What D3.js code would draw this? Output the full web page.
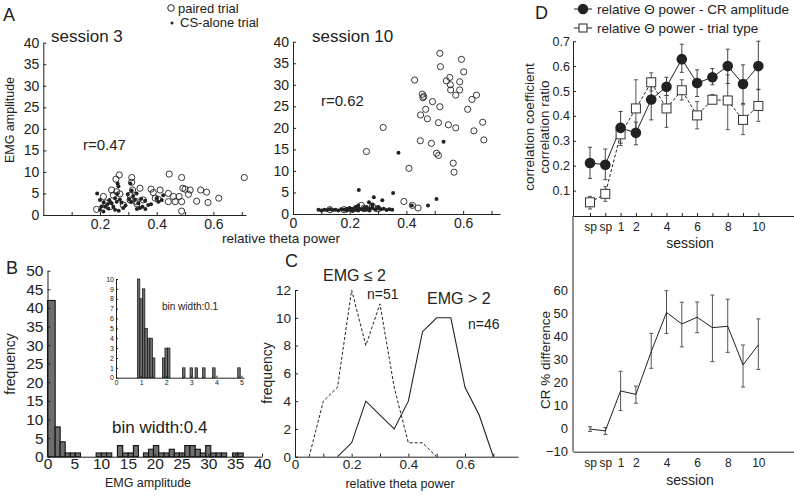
<!DOCTYPE html>
<html><head><meta charset="utf-8">
<script src="https://cdn.jsdelivr.net/npm/d3@7"></script>
<style>
body{margin:0;background:#fff;}
text{font-family:"Liberation Sans",Arial,sans-serif;fill:#222;}
</style></head>
<body><svg id="c" width="794" height="500"></svg>
<script>
// ---------------- DATA ----------------
// Panel A, session 3
const s3Paired = [[0.268,9.3],[0.256,8.3],[0.312,8.7],[0.312,7.6],[0.444,9.5],[0.488,8.7],[0.709,8.7],[0.241,5.8],[0.259,5.4],[0.247,4.6],[0.315,5.8],[0.341,6.2],[0.38,6.0],[0.388,5.2],[0.412,5.8],[0.441,5.0],[0.459,4.3],[0.492,6.2],[0.5,6.0],[0.518,5.8],[0.512,4.8],[0.555,5.8],[0.576,5.3],[0.541,3.2],[0.581,2.9],[0.619,3.9],[0.488,3.1],[0.479,4.3],[0.465,3.1],[0.441,3.1],[0.406,3.6],[0.488,0.9],[0.306,3.5],[0.329,3.1],[0.188,1.3],[0.235,1.9],[0.212,4.3],[0.282,2.3],[0.306,4.6],[0.353,3.5],[0.27,4.9],[0.33,2.6],[0.22,2.8],[0.395,3.9]];
const s3Alone = [[0.19,5.0],[0.2,3.5],[0.213,2.9],[0.218,1.9],[0.226,2.5],[0.233,3.5],[0.241,2.7],[0.247,1.9],[0.261,4.9],[0.265,6.7],[0.27,3.6],[0.276,2.9],[0.282,1.6],[0.259,3.1],[0.253,3.9],[0.312,5.7],[0.317,4.4],[0.323,3.6],[0.329,5.0],[0.335,2.7],[0.341,1.6],[0.35,1.9],[0.359,3.3],[0.37,2.3],[0.406,3.1],[0.418,3.5],[0.423,4.6],[0.298,4.8],[0.303,3.6],[0.2,1.2],[0.212,0.8],[0.229,1.5],[0.253,1.2],[0.266,1.0],[0.307,7.3],[0.262,7.3],[0.29,2.2],[0.345,3.8],[0.38,2.5],[0.4,3.9],[0.236,3.0],[0.205,2.0],[0.31,3.0],[0.33,1.4],[0.36,1.4]];
// Panel A, session 10
const s10Paired = [[0.518,37.3],[0.594,35.9],[0.52,34.2],[0.602,33.0],[0.429,31.1],[0.541,30.9],[0.553,31.7],[0.588,30.7],[0.555,30.0],[0.556,28.8],[0.588,28.8],[0.574,27.6],[0.456,27.8],[0.461,27.3],[0.458,27.0],[0.631,26.6],[0.647,27.6],[0.492,26.1],[0.518,24.9],[0.468,24.3],[0.616,24.3],[0.45,23.0],[0.474,22.1],[0.513,21.2],[0.548,20.7],[0.574,20.0],[0.669,21.3],[0.638,19.3],[0.673,17.2],[0.318,20.1],[0.449,17.0],[0.488,16.4],[0.506,14.1],[0.513,13.6],[0.259,14.5],[0.565,11.8],[0.568,9.7],[0.409,10.6],[0.391,2.9],[0.421,2.0],[0.441,1.4],[0.241,2.0],[0.13,1.0],[0.18,1.0],[0.25,1.3],[0.28,1.8],[0.3,1.2]];
const s10Alone = [[0.232,5.6],[0.372,14.2],[0.531,16.8],[0.353,4.9],[0.285,3.9],[0.315,3.2],[0.268,2.7],[0.506,3.5],[0.476,2.0],[0.419,2.0],[0.09,1.0],[0.1,0.8],[0.11,1.0],[0.12,0.9],[0.13,1.1],[0.14,0.9],[0.15,1.0],[0.16,0.8],[0.17,1.1],[0.18,1.0],[0.19,1.2],[0.19,0.8],[0.2,1.4],[0.2,1.0],[0.21,0.7],[0.21,1.2],[0.22,1.6],[0.22,0.9],[0.23,1.3],[0.23,0.8],[0.24,1.1],[0.25,0.9],[0.25,1.4],[0.26,1.0],[0.26,1.6],[0.27,1.2],[0.27,0.8],[0.28,1.4],[0.28,1.9],[0.29,1.0],[0.3,1.3],[0.3,1.6],[0.31,1.1],[0.32,1.2],[0.33,0.9],[0.34,1.1],[0.35,1.0],[0.23,2.0],[0.28,2.2]];
// Panel B main histogram (bin low edge, high edge, count)
const histLo =    [0,   1.43,2.36,3.3, 4.25,5.2, 9.07,10.04,11.01,13.04,14.03,15.05,16.02,17.9,18.85,19.75,20.75,21.7,22.7,23.65,24.6,25.6,26.55,27.55,28.5,29.5,30.45,31.45,32.45,34.5,35.5];
const histHi =    [1.43,2.36,3.3, 4.25,5.2, 6.15,10.04,11.01,11.98,14.03,15.05,16.02,16.95,18.85,19.75,20.75,21.7,22.7,23.65,24.6,25.6,26.55,27.55,28.5,29.5,30.45,31.45,32.45,33.4,35.5,36.5];
const histCount = [42,  8,   4,   1,   1,   1,   1,    1,    1,    3,    1,    1,    3,    1,   2,    3,    1,    1,   2,   1,    1,   3,   3,    2,    1,   3,   1,    1,    1,   1,   1];
// Panel B inset (bin width 0.1)
const insetLo =    [0.85,0.95,1.05,1.15,1.25,1.35,1.45,1.85,1.95,2.05,2.65,2.95,3.15,3.45,3.85,4.85];
const insetCount = [10,  8,   9,   5,   4,   4,   2,   2,   3,   3,   1,   1,   1,   1,   1,   1];
// Panel C
const thetaBins = [0.05,0.1,0.15,0.2,0.25,0.3,0.35,0.4,0.45,0.5,0.55,0.6,0.65,0.7];
const lowEMG  = [0,4,5,12,8,11,5,1,1,0,null,null,null,null];
const highEMG = [null,null,0,1,4,3,2,4,9,10,10,5,3,0];
// Panel D
const sessions = ["sp","sp","1","2","3","4","5","6","7","8","9","10"];
const sessionTickLabels = ["sp","sp","1","2","","4","","6","","8","","10"];
const crAmpR   = [0.211,0.204,0.352,0.332,0.466,0.517,0.628,0.532,0.555,0.6,0.528,0.6];
const crAmpLo  = [0.149,0.144,0.29,0.284,0.384,0.482,0.575,0.478,0.525,0.53,0.45,0.507];
const crAmpHi  = [0.274,0.267,0.418,0.375,0.55,0.555,0.688,0.585,0.59,0.668,0.605,0.7];
const trialR   = [0.053,0.087,0.326,0.43,0.535,0.43,0.503,0.402,0.465,0.462,0.384,0.44];
const trialLo  = [0.026,0.057,0.281,0.338,0.5,0.354,0.464,0.348,0.449,0.345,0.325,0.378];
const trialHi  = [0.077,0.116,0.37,0.545,0.573,0.482,0.545,0.458,0.486,0.565,0.445,0.505];
const crDiff   = [-0.2,-1.0,16.3,14.8,33.3,50.3,45.3,48.2,43.7,44.3,27.6,36.3];
const crDiffLo = [-1.2,-2.5,7.8,11.0,26.1,41.2,35.4,41.5,29.0,33.0,18.0,25.6];
const crDiffHi = [0.8,0.5,24.8,18.4,41.2,59.7,54.7,54.8,57.8,56.0,36.2,47.5];

// ---------------- DRAW ----------------
const svg = d3.select("#c");
const BLACK = "#222";

function styleAxis(g, fs){
  g.selectAll("path.domain").attr("stroke",BLACK).attr("stroke-width",1);
  g.selectAll(".tick line").attr("stroke",BLACK);
  g.selectAll(".tick text").attr("fill",BLACK).style("font-size",fs+"px").style("font-family",'"Liberation Sans",Arial,sans-serif');
  return g;
}
function text(x,y,t,fs,anchor,rot){
  const el = svg.append("text").attr("x",x).attr("y",y).text(t).style("font-size",fs+"px").attr("text-anchor",anchor||"start");
  if(rot) el.attr("transform",`rotate(${rot},${x},${y})`);
  return el;
}
const thetaFmt = d=>{const k=Math.round(d*10); return k===0?"0":(k%2===0?d3.format(".1f")(d):"");};

// ---- Panel A ----
text(3,21,"A",18);
svg.append("circle").attr("cx",171).attr("cy",8).attr("r",3.3).attr("fill","none").attr("stroke",BLACK);
text(178,13,"paired trial",13);
svg.append("circle").attr("cx",172).attr("cy",23).attr("r",1.5).attr("fill",BLACK);
text(180,27,"CS-alone trial",13);

function scatter(xs, ys, paired, alone, showZero){
  const gx = svg.append("g").attr("transform",`translate(0,${ys.range()[0]})`)
    .call(d3.axisBottom(xs).tickValues(d3.range(showZero?0:1,8).map(i=>i/10)).tickSize(-3).tickSizeOuter(0).tickPadding(4)
      .tickFormat(thetaFmt));
  styleAxis(gx,14);
  const gy = svg.append("g").attr("transform",`translate(${xs.range()[0]},0)`)
    .call(d3.axisLeft(ys).tickValues(d3.range(0,41,5)).tickSize(-3).tickSizeOuter(0).tickPadding(4));
  styleAxis(gy,14);
  svg.append("g").selectAll("circle").data(alone).join("circle")
    .attr("cx",d=>xs(d[0])).attr("cy",d=>ys(d[1])).attr("r",2).attr("fill",BLACK);
  svg.append("g").selectAll("circle").data(paired).join("circle")
    .attr("cx",d=>xs(d[0])).attr("cy",d=>ys(d[1])).attr("r",3.1).attr("fill","none").attr("stroke",BLACK).attr("stroke-width",0.9);
}
const xA3 = d3.scaleLinear([0,0.715],[43.3,246]);
const yA3 = d3.scaleLinear([0,40],[215,42.7]);
scatter(xA3,yA3,s3Paired,s3Alone,false);
const xA10 = d3.scaleLinear([0,0.73],[293,500]);
const yA10 = d3.scaleLinear([0,40],[214,41.7]);
scatter(xA10,yA10,s10Paired,s10Alone,true);
text(51,42,"session 3",17);
text(312,42,"session 10",17);
text(83,150,"r=0.47",15);
text(321,106,"r=0.62",15);
text(14,120,"EMG amplitude",12.5,"middle",-90);
text(281,243,"relative theta power",13.5,"middle");

// ---- Panel B ----
text(6,274,"B",18);
const xB = d3.scaleLinear([0,40],[47.5,262]);
const yB = d3.scaleLinear([0,50],[456.7,270.7]);
svg.append("g").selectAll("rect").data(histCount).join("rect")
  .attr("x",(d,i)=>xB(histLo[i])).attr("width",(d,i)=>xB(histHi[i])-xB(histLo[i]))
  .attr("y",d=>yB(d)).attr("height",d=>yB(0)-yB(d))
  .attr("fill","#6e6e6e").attr("stroke","#111").attr("stroke-width",1.1);
styleAxis(svg.append("g").attr("transform",`translate(0,${yB(0)})`)
  .call(d3.axisBottom(xB).tickValues(d3.range(0,41,5)).tickSize(-3).tickSizeOuter(0).tickPadding(1)),15.5);
styleAxis(svg.append("g").attr("transform",`translate(${xB(0)},0)`)
  .call(d3.axisLeft(yB).tickValues(d3.range(0,51,5)).tickSize(-3).tickSizeOuter(0).tickPadding(4)),15.5);
text(15,364,"frequency",14,"middle",-90);
text(148,487,"EMG amplitude",12.5,"middle");
text(112,433,"bin width:0.4",17);
// inset
const xI = d3.scaleLinear([0,5.1],[116,244]);
const yI = d3.scaleLinear([0,10],[377.7,279]);
svg.append("g").selectAll("rect").data(insetCount).join("rect")
  .attr("x",(d,i)=>xI(insetLo[i])).attr("width",xI(0.1)-xI(0))
  .attr("y",d=>yI(d)).attr("height",d=>yI(0)-yI(d))
  .attr("fill","#6e6e6e").attr("stroke","#111").attr("stroke-width",0.7);
styleAxis(svg.append("g").attr("transform",`translate(0,${yI(0)})`)
  .call(d3.axisBottom(xI).tickValues(d3.range(0,6)).tickSize(-2).tickSizeOuter(0).tickPadding(2).tickFormat(d3.format("d"))),7);
styleAxis(svg.append("g").attr("transform",`translate(${xI(0)},0)`)
  .call(d3.axisLeft(yI).tickValues(d3.range(0,11)).tickSize(-2).tickSizeOuter(0).tickPadding(2).tickFormat(d3.format("d"))),7);
text(162,310,"bin width:0.1",10);

// ---- Panel C ----
text(285,267,"C",18);
const xC = d3.scaleLinear([0,0.787],[295,518]);
const yC = d3.scaleLinear([0,12],[456.7,290]);
styleAxis(svg.append("g").attr("transform",`translate(0,${yC(0)})`)
  .call(d3.axisBottom(xC).tickValues(d3.range(0,8).map(i=>i/10)).tickSize(-3).tickSizeOuter(0).tickPadding(3)
    .tickFormat(thetaFmt)),13.5);
styleAxis(svg.append("g").attr("transform",`translate(${xC(0)},0)`)
  .call(d3.axisLeft(yC).tickValues(d3.range(0,13,2)).tickSize(-3).tickSizeOuter(0).tickPadding(4)),13.5);
const lineC = d3.line().defined(d=>d[1]!==null).x(d=>xC(d[0])).y(d=>yC(d[1]));
svg.append("path").attr("d",lineC(thetaBins.map((t,i)=>[t,lowEMG[i]]))).attr("fill","none")
  .attr("stroke",BLACK).attr("stroke-width",1).attr("stroke-dasharray","3,2");
svg.append("path").attr("d",lineC(thetaBins.map((t,i)=>[t,highEMG[i]]))).attr("fill","none")
  .attr("stroke",BLACK).attr("stroke-width",1.1);
text(272,373,"frequency",14,"middle",-90);
text(400,488,"relative theta power",12.5,"middle");
text(323,281,"EMG ≤ 2",16);
text(367,299,"n=51",14);
text(427,304,"EMG > 2",16);
text(468,329,"n=46",14);

// ---- Panel D ----
text(535,19,"D",18);
const xD = d3.scaleLinear([-1.11,13.33],[573,794]);
const yD = d3.scaleLinear([0,0.7],[215.5,41.2]);
const yD2 = d3.scaleLinear([-10,60],[451.7,290]);
const idx = d3.range(sessions.length);
// legend
svg.append("line").attr("x1",574).attr("x2",592).attr("y1",9).attr("y2",9).attr("stroke",BLACK);
svg.append("circle").attr("cx",583).attr("cy",9).attr("r",5.2).attr("fill",BLACK);
text(597,14,"relative Θ power - CR amplitude",13.5);
svg.append("line").attr("x1",574).attr("x2",592).attr("y1",28).attr("y2",28).attr("stroke",BLACK);
svg.append("rect").attr("x",579).attr("y",24).attr("width",8).attr("height",8).attr("fill","#fff").attr("stroke",BLACK);
text(597,33,"relative Θ power - trial type",13.5);
// top axes
styleAxis(svg.append("g").attr("transform",`translate(0,216)`)
  .call(d3.axisBottom(xD).tickValues(idx).tickSize(-3).tickSizeOuter(0).tickPadding(6).tickFormat(i=>sessionTickLabels[i])),12);
styleAxis(svg.append("g").attr("transform",`translate(573,0)`)
  .call(d3.axisLeft(yD).tickValues(d3.range(1,8).map(i=>i/10)).tickSize(-3).tickSizeOuter(0).tickPadding(3).tickFormat(d3.format(".1f"))),12.5);
function errBars(lo,hi,ys,color){
  const g = svg.append("g").attr("stroke",color).attr("stroke-width",1);
  idx.forEach(i=>{
    const x = xD(i);
    g.append("line").attr("x1",x).attr("x2",x).attr("y1",ys(lo[i])).attr("y2",ys(hi[i]));
    g.append("line").attr("x1",x-2).attr("x2",x+2).attr("y1",ys(lo[i])).attr("y2",ys(lo[i]));
    g.append("line").attr("x1",x-2).attr("x2",x+2).attr("y1",ys(hi[i])).attr("y2",ys(hi[i]));
  });
}
errBars(trialLo,trialHi,yD,"#555");
errBars(crAmpLo,crAmpHi,yD,"#444");
svg.append("path").attr("d",d3.line().x(i=>xD(i)).y(i=>yD(trialR[i]))(idx))
  .attr("fill","none").attr("stroke",BLACK).attr("stroke-dasharray","3,2");
svg.append("path").attr("d",d3.line().x(i=>xD(i)).y(i=>yD(crAmpR[i]))(idx))
  .attr("fill","none").attr("stroke",BLACK);
svg.append("g").selectAll("rect").data(idx).join("rect")
  .attr("x",i=>xD(i)-4.5).attr("y",i=>yD(trialR[i])-4.5).attr("width",9).attr("height",9)
  .attr("fill","#fff").attr("stroke","#333");
svg.append("g").selectAll("circle").data(idx).join("circle")
  .attr("cx",i=>xD(i)).attr("cy",i=>yD(crAmpR[i])).attr("r",5.3).attr("fill",BLACK);
text(534,127,"correlation coefficient",13.5,"middle",-90);
text(549,127,"correlation ratio",13.5,"middle",-90);
text(690,248,"session",14,"middle");
// bottom
styleAxis(svg.append("g").attr("transform",`translate(0,${yD2(-10)})`)
  .call(d3.axisBottom(xD).tickValues(idx).tickSize(0).tickSizeOuter(0).tickPadding(7).tickFormat(i=>sessionTickLabels[i])),12);
svg.append("line").attr("x1",573).attr("x2",573).attr("y1",216).attr("y2",yD2(-10)).attr("stroke",BLACK);
styleAxis(svg.append("g").attr("transform",`translate(573,0)`)
  .call(d3.axisLeft(yD2).tickValues(d3.range(-10,61,10)).tickSize(0).tickSizeOuter(0).tickPadding(5)),13).select("path.domain").remove();
errBars(crDiffLo,crDiffHi,yD2,"#555");
svg.append("path").attr("d",d3.line().x(i=>xD(i)).y(i=>yD2(crDiff[i]))(idx))
  .attr("fill","none").attr("stroke",BLACK);
text(550,360,"CR % difference",13.5,"middle",-90);
text(690,485,"session",14,"middle");
</script></body></html>
